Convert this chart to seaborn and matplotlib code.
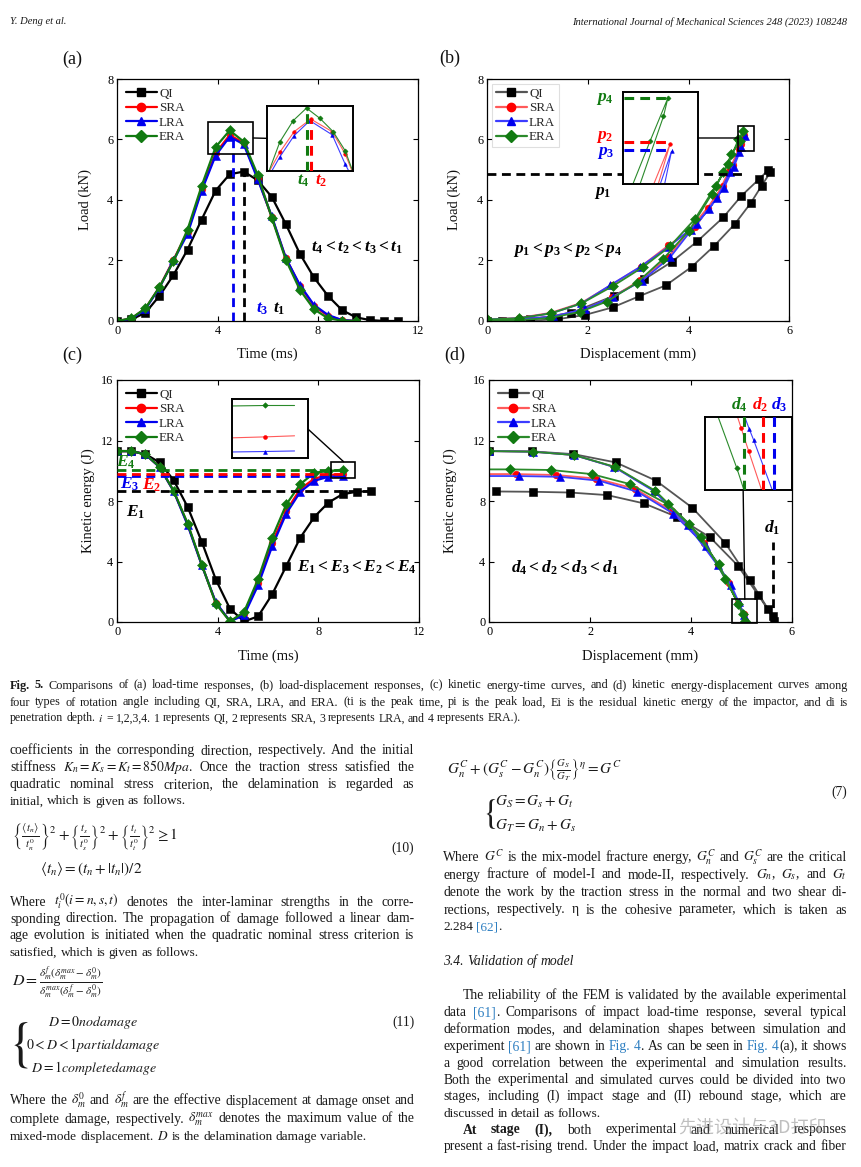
import re
import matplotlib
matplotlib.use("Agg")
import matplotlib.pyplot as plt
from matplotlib.lines import Line2D
from matplotlib.patches import Rectangle, ConnectionPatch
import seaborn as sns

# ---------------- values ----------------
series = ["QI", "SRA", "LRA", "ERA"]

# (a) load-time
time_a = [0, 0.56, 1.12, 1.68, 2.24, 2.8, 3.36, 3.92, 4.48, 5.04, 5.6, 6.16, 6.72,
          7.28, 7.84, 8.4, 8.96, 9.52, 10.08, 10.64, 11.2]
load_a_qi = [0, 0.05, 0.27, 0.83, 1.52, 2.36, 3.35, 4.31, 4.85, 4.94, 4.65, 4.1, 3.2,
             2.22, 1.44, 0.83, 0.36, 0.12, 0.03, 0.0, 0.0]
load_a_sra = [0, 0.08, 0.41, 1.12, 2.02, 2.95, 4.35, 5.55, 6.15, 5.88, 4.72, 3.43, 2.08,
              1.16, 0.5, 0.17, 0.03, 0.0]
load_a_lra = [0, 0.07, 0.39, 1.1, 2.0, 2.88, 4.3, 5.47, 6.09, 5.84, 4.68, 3.46, 2.08,
              1.19, 0.53, 0.2, 0.03, 0.0]
load_a_era = [0, 0.09, 0.42, 1.12, 1.97, 3.02, 4.46, 5.75, 6.3, 5.93, 4.82, 3.41, 2.02,
              1.03, 0.39, 0.09, 0.01, 0.0]
peak_time_a = [5.04, 4.52, 4.60, 4.43]
peak_load_a = [4.94, 6.16, 6.10, 6.30]
# inset of (a)
ins_a_t_sra = [3.65, 3.87, 4.17, 4.52, 4.97, 5.24, 5.42]
ins_a_sra = [5.50, 5.74, 6.00, 6.16, 6.00, 5.72, 5.45]
ins_a_t_lra = [3.70, 3.87, 4.17, 4.50, 4.97, 5.24, 5.36]
ins_a_lra = [5.50, 5.68, 5.95, 6.14, 5.96, 5.59, 5.45]
ins_a_t_era = [3.55, 3.87, 4.15, 4.43, 4.71, 4.99, 5.24, 5.40]
ins_a_era = [5.35, 5.87, 6.14, 6.30, 6.17, 6.00, 5.76, 5.50]

# (b) load-displacement (loading then unloading)
disp_b_qi = [0, 0.85, 1.67, 2.51, 3.12, 3.66, 4.17, 4.69, 5.05, 5.4, 5.58, 5.62, 5.45,
             5.23, 4.92, 4.5, 4.06, 3.55, 3.02, 2.49, 1.94, 1.4, 0.85, 0.3]
load_b_qi = [0, 0.05, 0.27, 0.83, 1.38, 1.95, 2.63, 3.43, 4.14, 4.69, 4.99, 4.91, 4.47,
             3.89, 3.21, 2.47, 1.79, 1.18, 0.82, 0.45, 0.2, 0.06, 0.01, 0.0]
disp_b_sra = [0, 0.62, 1.26, 1.87, 2.47, 3.05, 3.6, 4.13, 4.55, 4.8, 5.0, 5.1, 5.05,
              4.88, 4.68, 4.38, 4.02, 3.6, 3.04, 2.48, 1.92, 1.27, 0.62, 0.0]
load_b_sra = [0.05, 0.1, 0.27, 0.6, 1.2, 1.8, 2.5, 3.1, 4.1, 4.95, 5.7, 6.15, 5.85,
              5.15, 4.45, 3.75, 3.02, 2.12, 1.35, 0.78, 0.38, 0.14, 0.05, 0.03]
disp_b_lra = [0, 0.62, 1.26, 1.87, 2.44, 3.03, 3.6, 4.16, 4.56, 4.82, 5.0, 5.12, 5.05,
              4.9, 4.7, 4.4, 4.05, 3.63, 3.07, 2.5, 1.95, 1.3, 0.62, 0.0]
load_b_lra = [0.05, 0.09, 0.25, 0.58, 1.18, 1.78, 2.45, 3.2, 4.05, 4.91, 5.6, 6.12, 5.75,
              5.1, 4.4, 3.7, 3.0, 2.1, 1.33, 0.8, 0.4, 0.15, 0.05, 0.03]
disp_b_era = [0, 0.62, 1.26, 1.87, 2.49, 3.1, 3.63, 4.13, 4.54, 4.79, 4.99, 5.09, 5.02,
              4.85, 4.69, 4.46, 4.01, 3.5, 2.97, 2.37, 1.84, 1.25, 0.62, 0.0]
load_b_era = [0.05, 0.09, 0.25, 0.58, 1.15, 1.79, 2.47, 3.38, 4.47, 5.2, 6.0, 6.28, 5.95,
              5.51, 4.91, 4.2, 2.99, 2.06, 1.26, 0.64, 0.3, 0.1, 0.03, 0.0]
peak_load_b = [4.85, 5.86, 5.78, 6.29]
peak_disp_b = [5.12, 5.11, 5.115, 5.10]
# inset of (b)
ins_b_sra_x = [5.045, 5.107, 5.062]
ins_b_sra_y = [5.40, 5.84, 5.40]
ins_b_lra_x = [5.068, 5.112, 5.085]
ins_b_lra_y = [5.40, 5.77, 5.40]
ins_b_era_x = [4.975, 5.04, 5.10, 5.085, 5.0]
ins_b_era_y = [5.40, 5.87, 6.29, 6.11, 5.40]

# (c) kinetic energy-time
time_c = time_a[:19]
ke_c_qi = [11.3, 11.3, 11.1, 10.55, 9.38, 7.6, 5.3, 2.8, 0.88, 0.04, 0.37, 1.83, 3.7,
           5.58, 6.95, 7.9, 8.45, 8.61, 8.65]
ke_c_sra = [11.3, 11.3, 11.08, 10.25, 8.66, 6.45, 3.77, 1.26, 0.05, 0.55, 2.6, 5.25,
            7.35, 8.8, 9.48, 9.72, 9.78]
ke_c_lra = [11.3, 11.3, 11.08, 10.24, 8.65, 6.4, 3.75, 1.3, 0.05, 0.44, 2.43, 5.01,
            7.17, 8.61, 9.34, 9.6, 9.65]
ke_c_era = [11.3, 11.3, 11.08, 10.26, 8.68, 6.51, 3.8, 1.21, 0.04, 0.66, 2.83, 5.58,
            7.77, 9.12, 9.87, 9.98, 10.07]
resid_e = [8.65, 9.78, 9.65, 10.07]
resid_end = [10.2, 9.1, 9.1, 9.1]
# inset of (c)
ins_c_t = [8.35, 8.77, 9.10]
ins_c_sra = [9.77, 9.78, 9.79]
ins_c_lra = [9.64, 9.645, 9.65]
ins_c_era = [10.065, 10.07, 10.07]

# (d) kinetic energy-displacement
disp_d_qi = [0, 0.85, 1.67, 2.51, 3.31, 4.03, 4.68, 5.17, 5.53, 5.65, 5.62, 5.33, 4.93,
             4.38, 3.72, 3.07, 2.34, 1.6, 0.86, 0.13]
ke_d_qi = [11.3, 11.28, 11.1, 10.55, 9.34, 7.55, 5.23, 2.78, 0.86, 0.04, 0.37, 1.81,
           3.73, 5.6, 6.95, 7.84, 8.39, 8.56, 8.61, 8.63]
disp_d_sra = [0, 0.86, 1.68, 2.48, 3.28, 3.95, 4.54, 4.94, 5.08, 5.05, 4.75, 4.26, 3.62,
              2.9, 2.12, 1.33, 0.52, -0.28]
ke_d_sra = [11.3, 11.26, 11.04, 10.25, 8.66, 6.45, 3.77, 1.26, 0.05, 0.55, 2.6, 5.25,
            7.35, 8.8, 9.48, 9.72, 9.78, 9.78]
disp_d_lra = [0, 0.86, 1.68, 2.48, 3.27, 3.94, 4.53, 4.95, 5.1, 5.06, 4.8, 4.3, 3.65,
              2.94, 2.18, 1.4, 0.58, -0.2]
ke_d_lra = [11.3, 11.26, 11.04, 10.24, 8.65, 6.4, 3.75, 1.3, 0.05, 0.44, 2.43, 5.01,
            7.17, 8.61, 9.34, 9.6, 9.65, 9.65]
disp_d_era = [0, 0.86, 1.68, 2.49, 3.29, 3.97, 4.55, 4.94, 5.07, 5.04, 4.68, 4.21, 3.55,
              2.79, 2.03, 1.22, 0.42, -0.4]
ke_d_era = [11.3, 11.26, 11.04, 10.26, 8.68, 6.47, 3.82, 1.21, 0.04, 0.55, 2.87, 5.63,
            7.77, 9.12, 9.78, 10.05, 10.09, 10.09]
pen_depth = [5.63, 5.15, 5.21, 5.04]
pen_top_qi = 5.3
# inset of (d)
ins_d_sra_x = [5.0, 5.025, 5.067, 5.14]
ins_d_sra_y = [1.55, 1.27, 0.8, 0.0]
ins_d_lra_x = [5.04, 5.07, 5.095, 5.2]
ins_d_lra_y = [1.55, 1.26, 1.03, 0.0]
ins_d_era_x = [4.89, 5.0, 5.04]
ins_d_era_y = [1.55, 0.45, 0.0]

# ---------------- style ----------------
sns.set_theme(style="ticks")
plt.rcParams["font.family"] = ["Liberation Serif", "DejaVu Serif"]
plt.rcParams["mathtext.fontset"] = "stix"
plt.rcParams["mathtext.rm"] = "Liberation Serif:bold"
plt.rcParams["mathtext.it"] = "Liberation Serif:italic:bold"
plt.rcParams["mathtext.bf"] = "Liberation Serif:bold"

W, H = 861, 1167
fig = plt.figure(figsize=(W / 100, H / 100), dpi=100)
fig.patch.set_facecolor("white")


def fx(x):
    return x / W


def fy(y):
    return 1 - y / H


colors = {"QI": "#000000", "SRA": "#ff0000", "LRA": "#0000ee", "ERA": "#117a11"}
thin = {"QI": "#555555", "SRA": "#ff5a5a", "LRA": "#3c3cff", "ERA": "#2b8a2b"}
marks = {"QI": "s", "SRA": "o", "LRA": "^", "ERA": "D"}
msize = {"QI": 5.2, "SRA": 4.8, "LRA": 5.4, "ERA": 4.8}
DASH = (0, (3.2, 2.0))


def px_axes(l, t, r, b):
    return fig.add_axes([fx(l), fy(b), (r - l) / W, (b - t) / H])


def style(ax, xlim, ylim, xt, yt, xlabel, ylabel, xl_y, yl_x):
    ax.set_xlim(xlim)
    ax.set_ylim(ylim)
    ax.set_xticks(xt)
    ax.set_yticks(yt)
    ax.tick_params(direction="in", length=3.5, width=0.8, top=True, right=True,
                   labelsize=8.8, pad=3, colors="black")
    for s in ax.spines.values():
        s.set_visible(True)
        s.set_linewidth(0.9)
        s.set_color("black")
    ax.set_xlabel(xlabel, fontsize=10.5, color="#111111")
    ax.set_ylabel(ylabel, fontsize=10.5, color="#111111")
    ax.xaxis.set_label_coords(0.5, xl_y)
    ax.yaxis.set_label_coords(yl_x, 0.5)


def curve(ax, xs, ys, name, lw, lcol, ms=None, every=1, z=2):
    sns.lineplot(x=xs, y=ys, ax=ax, sort=False, estimator=None, color=lcol,
                 linewidth=lw, marker=marks[name], markersize=ms or msize[name],
                 markerfacecolor=colors[name], markeredgecolor=colors[name],
                 markeredgewidth=0.4, markevery=every, zorder=z)


def legend(ax, lcols, frame=False):
    hs = [Line2D([], [], color=lcols[n], lw=1.6, marker=marks[n], markersize=6,
                 markerfacecolor=colors[n], markeredgecolor=colors[n]) for n in series]
    lg = ax.legend(hs, series, loc="upper left", fontsize=9.4, handlelength=2.4,
                   handletextpad=0.15, labelspacing=0.18, borderpad=0.3,
                   borderaxespad=0.35, frameon=frame, fancybox=False)
    if frame:
        lg.get_frame().set_edgecolor("#d8d8d8")
        lg.get_frame().set_linewidth(0.8)
    lg.set_zorder(10)


def inset(ax, box, rect, conn_a, conn_b):
    x0, x1, y0, y1 = box
    ax.add_patch(Rectangle((x0, y0), x1 - x0, y1 - y0, fill=False, ec="black",
                           lw=1.2, zorder=7, clip_on=False))
    ins = px_axes(*rect)
    ins.set_facecolor("white")
    ins.set_xticks([])
    ins.set_yticks([])
    for s in ins.spines.values():
        s.set_visible(True)
        s.set_linewidth(1.4)
        s.set_color("black")
    con = ConnectionPatch(xyA=conn_a, coordsA=ax.transData, xyB=conn_b,
                          coordsB=ins.transAxes, color="black", lw=1.0)
    fig.add_artist(con)
    return ins


def ann(x, y, s, color, size=12.5):
    fig.text(fx(x), fy(y), s, color=color, fontsize=size, ha="center", va="center",
             math_fontfamily="custom")


def panel_letter(x, y, s):
    fig.text(fx(x), fy(y), s, fontsize=13, ha="center", va="center", color="#111111")


# ---------------- (a) ----------------
ax = px_axes(117.3, 79, 418.3, 321)
a_load = {"QI": load_a_qi, "SRA": load_a_sra, "LRA": load_a_lra, "ERA": load_a_era}
for n in series:
    curve(ax, time_a[:len(a_load[n])], a_load[n], n, 1.6, colors[n])
for i in [0, 2]:
    ax.plot([peak_time_a[i], peak_time_a[i]], [0, peak_load_a[i]], color=colors[series[i]],
            lw=2.0, ls=DASH, zorder=5)
style(ax, (0, 12), (0, 8), [0, 4, 8, 12], [0, 2, 4, 6, 8], "Time (ms)", "Load (kN)",
      -0.108, -0.084)
legend(ax, colors)
ins = inset(ax, (3.6, 5.42, 5.51, 6.59), (267, 105.7, 352.7, 171), (5.42, 6.05), (0, 0.5))
ins_a = {"SRA": (ins_a_t_sra, ins_a_sra), "LRA": (ins_a_t_lra, ins_a_lra),
         "ERA": (ins_a_t_era, ins_a_era)}
for n, (xs, ys) in ins_a.items():
    curve(ins, xs, ys, n, 0.8, thin[n], ms=2.6, every=slice(1, -1))
for i in [3, 1]:
    ins.plot([peak_time_a[i], peak_time_a[i]], [5.3, peak_load_a[i]], color=colors[series[i]],
             lw=2.2, ls=DASH, zorder=5)
ins.set_xlim(3.6, 5.4)
ins.set_ylim(5.5, 6.33)
panel_letter(72, 59, "(a)")
ann(262, 309, r"$t_3$", colors["LRA"])
ann(279, 309, r"$t_1$", colors["QI"])
ann(303, 181, r"$t_4$", colors["ERA"])
ann(321, 181, r"$t_2$", colors["SRA"])
ann(357, 248, r"$t_4<t_2<t_3<t_1$", colors["QI"])

# ---------------- (b) ----------------
ax = px_axes(487.3, 79, 789.3, 321)
b_xy = {"QI": (disp_b_qi, load_b_qi), "SRA": (disp_b_sra, load_b_sra),
        "LRA": (disp_b_lra, load_b_lra), "ERA": (disp_b_era, load_b_era)}
for n in series:
    curve(ax, b_xy[n][0], b_xy[n][1], n, 1.3, thin[n])
ax.plot([0, peak_disp_b[0]], [peak_load_b[0], peak_load_b[0]], color="black", lw=2.0,
        ls=DASH, zorder=5)
style(ax, (0, 6), (0, 8), [0, 2, 4, 6], [0, 2, 4, 6, 8], "Displacement (mm)",
      "Load (kN)", -0.108, -0.087)
legend(ax, thin, frame=True)
ins = inset(ax, (4.99, 5.29, 5.62, 6.45), (623.3, 91.7, 697.7, 184.3), (4.99, 6.05), (1, 0.5))
ins_b = {"SRA": (ins_b_sra_x, ins_b_sra_y, [1]), "LRA": (ins_b_lra_x, ins_b_lra_y, [1]),
         "ERA": (ins_b_era_x, ins_b_era_y, [1, 2, 3])}
for n, (xs, ys, ev) in ins_b.items():
    curve(ins, xs, ys, n, 0.8, thin[n], ms=2.6, every=ev)
for i in [1, 2, 3]:
    ins.plot([4.9, peak_disp_b[i]], [peak_load_b[i], peak_load_b[i]], color=colors[series[i]],
             lw=2.2, ls=DASH, zorder=5)
ins.set_xlim(4.95, 5.2)
ins.set_ylim(5.45, 6.35)
panel_letter(450, 58, "(b)")
ann(605, 99, r"$p_4$", colors["ERA"])
ann(605, 137, r"$p_2$", colors["SRA"])
ann(606, 153, r"$p_3$", colors["LRA"])
ann(603, 193, r"$p_1$", colors["QI"])
ann(568, 250, r"$p_1<p_3<p_2<p_4$", colors["QI"])

# ---------------- (c) ----------------
ax = px_axes(117.3, 380, 419, 622)
c_ke = {"QI": ke_c_qi, "SRA": ke_c_sra, "LRA": ke_c_lra, "ERA": ke_c_era}
for n in series:
    curve(ax, time_c[:len(c_ke[n])], c_ke[n], n, 1.6, colors[n])
for i in [0, 2, 1, 3]:
    ax.plot([0, resid_end[i]], [resid_e[i], resid_e[i]], color=colors[series[i]], lw=2.0,
            ls=DASH, zorder=5)
style(ax, (0, 12), (0, 16), [0, 4, 8, 12], [0, 4, 8, 12, 16], "Time (ms)",
      "Kinetic energy (J)", -0.112, -0.074)
legend(ax, colors)
ins = inset(ax, (8.5, 9.45, 9.54, 10.6), (231.7, 399, 308, 458), (9.0, 10.6), (1, 0.49))
ins_c = {"SRA": ins_c_sra, "LRA": ins_c_lra, "ERA": ins_c_era}
for n, ys in ins_c.items():
    curve(ins, ins_c_t, ys, n, 0.8, thin[n], ms=2.8, every=[1])
ins.set_xlim(8.4, 9.25)
ins.set_ylim(9.585, 10.13)
panel_letter(72, 355, "(c)")
ann(126, 462, r"$E_4$", colors["ERA"])
ann(130, 484, r"$E_3$", colors["LRA"])
ann(152, 485, r"$E_2$", colors["SRA"])
ann(136, 512, r"$E_1$", colors["QI"])
ann(357, 567, r"$E_1<E_3<E_2<E_4$", colors["QI"])

# ---------------- (d) ----------------
ax = px_axes(489.3, 380, 791.7, 622)
d_xy = {"QI": (disp_d_qi, ke_d_qi), "SRA": (disp_d_sra, ke_d_sra),
        "LRA": (disp_d_lra, ke_d_lra), "ERA": (disp_d_era, ke_d_era)}
for n in series:
    curve(ax, d_xy[n][0], d_xy[n][1], n, 1.3, thin[n])
ax.plot([pen_depth[0], pen_depth[0]], [0, pen_top_qi], color="black", lw=2.0, ls=DASH,
        zorder=5)
style(ax, (0, 6), (0, 16), [0, 2, 4, 6], [0, 4, 8, 12, 16], "Displacement (mm)",
      "Kinetic energy (J)", -0.112, -0.108)
legend(ax, thin)
ins = inset(ax, (4.82, 5.31, -0.05, 1.5), (705, 417.3, 791.7, 490), (5.07, 1.5), (0.44, 0))
ins_d = {"SRA": (ins_d_sra_x, ins_d_sra_y, [1, 2]), "LRA": (ins_d_lra_x, ins_d_lra_y, [1, 2]),
         "ERA": (ins_d_era_x, ins_d_era_y, [1])}
for n, (xs, ys, ev) in ins_d.items():
    curve(ins, xs, ys, n, 0.8, thin[n], ms=2.8, every=ev)
for i in [3, 1, 2]:
    ins.plot([pen_depth[i], pen_depth[i]], [0, 1.6], color=colors[series[i]], lw=2.2,
             ls=DASH, zorder=5)
ins.set_xlim(4.82, 5.31)
ins.set_ylim(0, 1.5)
panel_letter(455, 355, "(d)")
ann(739, 405, r"$d_4$", colors["ERA"])
ann(760, 405, r"$d_2$", colors["SRA"])
ann(779, 405, r"$d_3$", colors["LRA"])
ann(772, 528, r"$d_1$", colors["QI"])
ann(565, 568, r"$d_4<d_2<d_3<d_1$", colors["QI"])

# ---------------- page text ----------------
INK = "#1a1a1a"
LINK = "#2e7fc1"
renderer = fig.canvas.get_renderer()


def tok(word):
    parts = []
    for p in re.split(r"(§[^§]*§|¤[^¤]*¤)", word):
        if not p:
            continue
        if p[0] == "§":
            parts.append((p[1:-1], LINK, "normal"))
        elif p[0] == "¤":
            parts.append((p[1:-1], INK, "bold"))
        else:
            parts.append((p, INK, "normal"))
    return parts


def build(words, size, style):
    placed, widths = [], []
    for parts in words:
        wtot, arts = 0, []
        for txt, col, wt in parts:
            t = fig.text(0, 0, txt, fontsize=size, color=col, fontweight=wt,
                         fontstyle=style, ha="left", va="baseline", math_fontfamily="stix")
            arts.append((t, wtot))
            wtot += t.get_window_extent(renderer).width
        placed.append(arts)
        widths.append(wtot)
    return placed, widths


def line(x0, y, s, x1=None, size=9.8, style="normal"):
    words = [tok(w) for w in s.split(" ") if w]
    while True:
        placed, widths = build(words, size, style)
        space = size * 100 / 72 * 0.25
        natural = sum(widths) + space * (len(words) - 1)
        if x1 is None or natural <= x1 - x0 or size < 6:
            break
        for arts in placed:
            for t, _ in arts:
                t.remove()
        size *= (x1 - x0) / natural * 0.995
    gap = space
    if x1 is not None and len(words) > 1:
        gap = (x1 - x0 - sum(widths)) / (len(words) - 1)
    x = x0
    for arts, w in zip(placed, widths):
        for t, off in arts:
            t.set_position((fx(x + off), fy(y + 3.5)))
        x += w + gap


def eq(x, y, s, size=11, ha="left"):
    fig.text(fx(x), fy(y), s, fontsize=size, color=INK, ha=ha, va="center",
             math_fontfamily="stix")


# header
fig.text(fx(10), fy(22), "Y. Deng et al.", fontsize=7.6, style="italic", color=INK,
         ha="left", va="center")
fig.text(fx(847), fy(22), "International Journal of Mechanical Sciences 248 (2023) 108248",
         fontsize=7.6, style="italic", color=INK, ha="right", va="center")

# caption
cap = [
    "¤Fig.¤ ¤5.¤ Comparisons of (a) load-time responses, (b) load-displacement responses, "
    "(c) kinetic energy-time curves, and (d) kinetic energy-displacement curves among",
    "four types of rotation angle including QI, SRA, LRA, and ERA. (ti is the peak time, "
    "pi is the peak load, Ei is the residual kinetic energy of the impactor, and di is",
    "penetration depth. $i$ = 1,2,3,4. 1 represents QI, 2 represents SRA, 3 represents LRA, "
    "and 4 represents ERA.).",
]
line(10, 685, cap[0], 848, size=8.8)
line(10, 702, cap[1], 848, size=8.8)
line(10, 718, cap[2], None, size=8.5)

# left column
L0, L1 = 10, 414.3
line(L0, 750.7, "coefficients in the corresponding direction, respectively. And the initial", L1)
line(L0, 767.7, "stiffness $K_n=K_s=K_t=850Mpa$. Once the traction stress satisfied the", L1)
line(L0, 784.3, "quadratic nominal stress criterion, the delamination is regarded as", L1)
line(L0, 801, "initial, which is given as follows.", size=9.5)
eq(12, 836.7, r"$\left\{\frac{\langle t_n\rangle}{t_n^0}\right\}^2+\left\{\frac{t_s}{t_s^0}"
              r"\right\}^2+\left\{\frac{t_t}{t_t^0}\right\}^2\geq 1$")
eq(40, 869.3, r"$\langle t_n\rangle=(t_n+|t_n|)/2$")
eq(414.3, 848.3, "(10)", size=9.8, ha="right")
line(L0, 902.3, "Where $t_i^0(i=n,s,t)$ denotes the inter-laminar strengths in the corre-", L1)
line(L0, 919, "sponding direction. The propagation of damage followed a linear dam-", L1)
line(L0, 935.7, "age evolution is initiated when the quadratic nominal stress criterion is", L1)
line(L0, 952.3, "satisfied, which is given as follows.", size=9.5)
eq(12, 983, r"$D=\frac{\delta_m^f(\delta_m^{max}-\delta_m^0)}{\delta_m^{max}(\delta_m^f-\delta_m^0)}$",
   size=11.5)
eq(18, 1045, r"$\{$", size=38, ha="center")
eq(93, 1022.7, r"$D=0nodamage$", size=10, ha="center")
eq(93, 1045, r"$0<D<1partialdamage$", size=10, ha="center")
eq(94, 1068, r"$D=1completedamage$", size=10, ha="center")
eq(414.3, 1022.7, "(11)", size=9.8, ha="right")
line(L0, 1101, r"Where the $\delta_m^0$ and $\delta_m^f$ are the effective displacement at "
               "damage onset and", L1)
line(L0, 1119, r"complete damage, respectively. $\delta_m^{max}$ denotes the maximum value "
               "of the", L1)
line(L0, 1136.7, "mixed-mode displacement. $D$ is the delamination damage variable.", size=9.5)

# right column
R0, R1 = 443.3, 846.7
eq(447, 770, r"$G_n^C+(G_s^C-G_n^C)\left\{\frac{G_S}{G_T}\right\}^{\eta}=G^C$")
eq(489, 813.7, r"$\{$", size=25, ha="center")
eq(495, 801.7, r"$G_S=G_s+G_t$")
eq(495, 825.7, r"$G_T=G_n+G_s$")
eq(846.7, 792.7, "(7)", size=9.8, ha="right")
line(R0, 857.7, "Where $G^C$ is the mix-model fracture energy, $G_n^C$ and $G_s^C$ are the "
                "critical", R1)
line(R0, 875, "energy fracture of model-I and mode-II, respectively. $G_n$, $G_s$, and $G_t$", R1)
line(R0, 892.3, "denote the work by the traction stress in the normal and two shear di-", R1)
line(R0, 910, "rections, respectively. η is the cohesive parameter, which is taken as", R1)
line(R0, 926.7, "2.284 §[62]§.", size=9.5)
line(R0, 961.7, "3.4.  Validation of model", size=9.8, style="italic")
R0i = 462.7
line(R0i, 995.7, "The reliability of the FEM is validated by the available experimental", R1)
line(R0, 1012.7, "data §[61]§. Comparisons of impact load-time response, several typical", R1)
line(R0, 1029.3, "deformation modes, and delamination shapes between simulation and", R1)
line(R0, 1046.7, "experiment §[61]§ are shown in §Fig.§ §4§. As can be seen in §Fig.§ §4§(a), "
                 "it shows", R1)
line(R0, 1063.3, "a good correlation between the experimental and simulation results.", R1)
line(R0, 1080, "Both the experimental and simulated curves could be divided into two", R1)
line(R0, 1096.7, "stages, including (I) impact stage and (II) rebound stage, which are", R1)
line(R0, 1113.3, "discussed in detail as follows.", size=9.5)
line(R0i, 1130, "¤At¤ ¤stage¤ ¤(I),¤ both experimental and numerical responses", R1)
line(R0, 1146.7, "present a fast-rising trend. Under the impact load, matrix crack and fiber", R1)

# watermark (sits over the text, as in the page)
fig.text(fx(752), fy(1129), "先进设计与3D打印", family=["Noto Sans CJK SC", "DejaVu Sans"],
         fontsize=13, color="#8c8c8c", alpha=0.55, ha="center", va="center")

fig.savefig("out.png", dpi=100)
